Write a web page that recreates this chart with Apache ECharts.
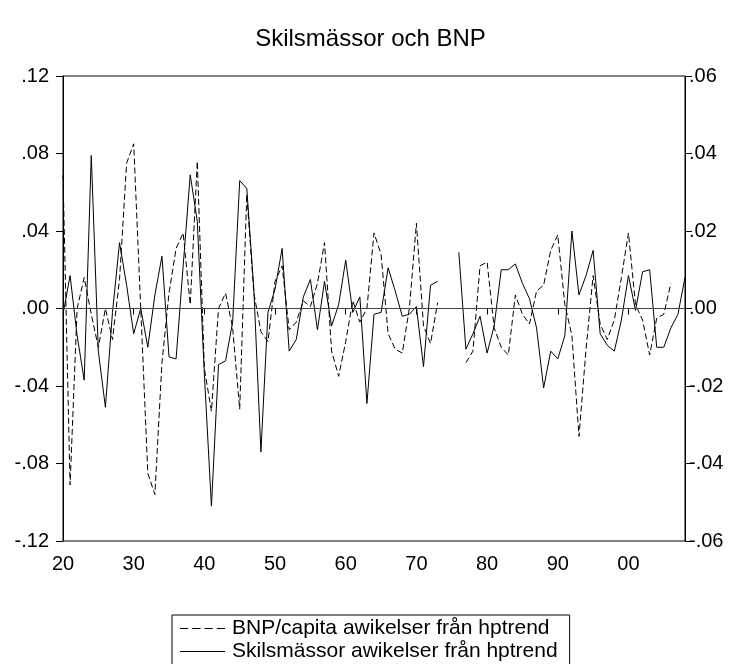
<!DOCTYPE html>
<html>
<head>
<meta charset="utf-8">
<script src="https://cdn.jsdelivr.net/npm/echarts@6/dist/echarts.min.js"></script>
<style>html,body{margin:0;padding:0;background:#fff;}#c{width:741px;height:664px;}</style>
</head>
<body>
<div id="c"></div>
<script>
var years = [];
for (var y = 1920; y <= 2008; y++) years.push(String(y));

// BNP/capita deviations (left axis)
var bnp = [
 0.069,-0.091, 0.000, 0.016,-0.003,-0.020, 0.000,-0.016, 0.015, 0.075,
 0.085, 0.000,-0.085,-0.096,-0.028, 0.008, 0.031, 0.039, 0.002, 0.076,
-0.031,-0.053, 0.000, 0.008,-0.010,-0.052, 0.059, 0.008,-0.012,-0.017,
 0.014, 0.022,-0.011,-0.007, 0.004, 0.001, 0.013, 0.034,-0.022,-0.035,
-0.017, 0.004,-0.007, 0.000, 0.039, 0.028,-0.013,-0.021,-0.023, 0.000,
 0.044,-0.009,-0.018, 0.003, null, null, null,-0.028,-0.022, 0.022,
 0.024,-0.010,-0.020,-0.024, 0.007,-0.003,-0.008, 0.009, 0.012, 0.030,
 0.038, 0.002,-0.014,-0.066,-0.021, 0.017,-0.008,-0.016,-0.006, 0.016,
 0.039, 0.002,-0.006,-0.024,-0.005,-0.003, 0.013, null, null
];

// Skilsmässor deviations (right axis)
var skils = [
-0.0015, 0.0085,-0.0070,-0.0185, 0.0395,-0.0110,-0.0255,-0.0010, 0.0170, 0.0060,
-0.0065, 0.0000,-0.0100, 0.0035, 0.0135,-0.0125,-0.0130, 0.0110, 0.0345, 0.0225,
-0.0170,-0.0510,-0.0145,-0.0135,-0.0035, 0.0330, 0.0310, 0.0050,-0.0370,-0.0010,
 0.0050, 0.0155,-0.0110,-0.0080, 0.0030, 0.0075,-0.0055, 0.0070,-0.0045, 0.0010,
 0.0125,-0.0010, 0.0030,-0.0245,-0.0015,-0.0010, 0.0105, 0.0045,-0.0020,-0.0015,
 0.0005,-0.0150, 0.0060, 0.0070, null, null, 0.0145,-0.0105,-0.0065,-0.0020,
-0.0115,-0.0045, 0.0100, 0.0100, 0.0115, 0.0065, 0.0025,-0.0050,-0.0205,-0.0110,
-0.0130,-0.0070, 0.0200, 0.0035, 0.0085, 0.0150,-0.0065,-0.0095,-0.0110,-0.0030,
 0.0085,-0.0005, 0.0095, 0.0100,-0.0100,-0.0100,-0.0050,-0.0015, 0.0080
];

var leftTicks = {min: -0.12, max: 0.12, step: 0.04};
var rightTicks = {min: -0.06, max: 0.06, step: 0.02};
var titleText = 'Skilsmässor och BNP';
var nameBNP = 'BNP/capita awikelser från hptrend';
var nameSkils = 'Skilsmässor awikelser från hptrend';

function fmt(v) {
  var s = (Math.round(v * 1000) / 1000).toFixed(2);
  if (s === '-0.00') s = '0.00';
  return s.replace('0.', '.');
}
function decade(idx, val) { return (+val) % 10 === 0; }

var FONT = 'Liberation Sans';
var dashIcon = 'path://M0,0h8v1h-8zM12,0h8v1h-8zM24,0h8v1h-8zM36,0h8v1h-8z';
var solidIcon = 'path://M0,0h44v1h-44z';

var chart = echarts.init(document.getElementById('c'));
chart.setOption({
  animation: false,
  backgroundColor: '#fff',
  textStyle: {fontFamily: FONT},
  title: {
    text: titleText, left: 'center', top: 22,
    textStyle: {fontFamily: FONT, fontSize: 24, fontWeight: 'normal', color: '#000'}
  },
  grid: {left: 63, right: 56, top: 76, bottom: 123, show: true, borderColor: '#000', borderWidth: 1},
  legend: {
    orient: 'vertical', left: 172, top: 615, height: 200,
    borderColor: '#000', borderWidth: 1, borderRadius: 0,
    padding: [3, 12, 12, 8],
    itemWidth: 45, itemHeight: 1.2, itemGap: 2,
    textStyle: {fontFamily: FONT, fontSize: 21, color: '#000', padding: [0, 0, 0, 2]},
    data: [{name: nameBNP, icon: dashIcon}, {name: nameSkils, icon: solidIcon}]
  },
  xAxis: {
    type: 'category', data: years, boundaryGap: false,
    axisLine: {lineStyle: {color: '#000', width: 1}},
    axisTick: {show: true, interval: decade, length: 6, inside: false, lineStyle: {color: '#000'}},
    axisLabel: {interval: decade, formatter: function (v) { return v.slice(2); },
      fontFamily: FONT, fontSize: 20, color: '#000', margin: 13},
    splitLine: {show: false}
  },
  yAxis: [
    {type: 'value', min: leftTicks.min, max: leftTicks.max, interval: leftTicks.step,
     position: 'left',
     axisLine: {show: true, lineStyle: {color: '#000'}},
     axisTick: {show: true, length: 7, lineStyle: {color: '#000'}},
     axisLabel: {formatter: fmt, fontFamily: FONT, fontSize: 20, color: '#000', margin: 14},
     splitLine: {show: false}},
    {type: 'value', min: rightTicks.min, max: rightTicks.max, interval: rightTicks.step,
     position: 'right',
     axisLine: {show: true, lineStyle: {color: '#000'}},
     axisTick: {show: true, length: 7, lineStyle: {color: '#000'}},
     axisLabel: {formatter: fmt, fontFamily: FONT, fontSize: 20, color: '#000', margin: 4},
     splitLine: {show: false}}
  ],
  series: [
    {name: nameBNP, type: 'line', yAxisIndex: 0, data: bnp,
     symbol: 'none', connectNulls: false,
     lineStyle: {color: '#000', width: 1, type: [6, 3]},
     itemStyle: {color: '#000'},
     markLine: {silent: true, symbol: 'none', label: {show: false},
       lineStyle: {color: '#444', width: 1, type: 'solid'},
       data: [{yAxis: 0}]}},
    {name: nameSkils, type: 'line', yAxisIndex: 1, data: skils,
     symbol: 'none', connectNulls: false,
     lineStyle: {color: '#000', width: 1, type: 'solid'},
     itemStyle: {color: '#000'}}
  ]
});
</script>
</body>
</html>
